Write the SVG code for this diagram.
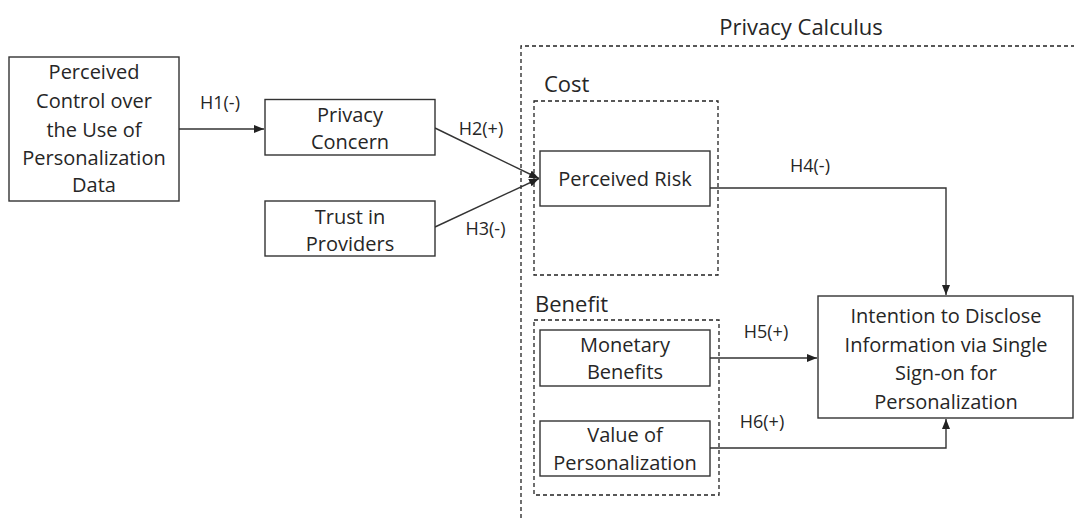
<svg xmlns="http://www.w3.org/2000/svg" width="1074" height="518" viewBox="0 0 1074 518">
<style>
.box{fill:#fff;stroke:#333;stroke-width:1.4}
.grp{fill:none;stroke:#222;stroke-width:1.3;stroke-dasharray:4 3}
.t{font-family:"Open Sans","Liberation Sans",sans-serif;font-size:20px;fill:#262626;text-anchor:middle}
.lbl{font-family:"Open Sans","Liberation Sans",sans-serif;font-size:18px;fill:#262626;text-anchor:middle}
.big{font-family:"Open Sans","Liberation Sans",sans-serif;font-size:22px;fill:#262626}
.c{fill:none;stroke:#333;stroke-width:1.4}
</style>
<defs>
<marker id="ah" markerUnits="userSpaceOnUse" markerWidth="10" markerHeight="8" viewBox="0 0 10 8" refX="10" refY="4" orient="auto">
<path d="M0,0 L10,4 L0,8 Z" fill="#222"/>
</marker>
</defs>
<rect width="1074" height="518" fill="#fff"/>
<g id="privacy-calculus">
<path class="grp" d="M521,518 V46 H1074"/>
<text class="big" x="801" y="35" text-anchor="middle">Privacy Calculus</text>
</g>
<g id="cost-group">
<rect class="grp" x="534" y="101" width="184" height="174"/>
<text class="big" x="544" y="92">Cost</text>
</g>
<g id="benefit-group">
<rect class="grp" x="534" y="320" width="185" height="175"/>
<text class="big" x="535" y="312">Benefit</text>
</g>
<g id="connectors">
<path class="c" d="M179,129 H264" marker-end="url(#ah)"/>
<path class="c" d="M435,128 L539,178.5" marker-end="url(#ah)"/>
<path class="c" d="M435,227 L539,178.5" marker-end="url(#ah)"/>
<path class="c" d="M710,188 H946 V295" marker-end="url(#ah)"/>
<path class="c" d="M710,358 H817" marker-end="url(#ah)"/>
<path class="c" d="M710,448 H946 V419" marker-end="url(#ah)"/>
<text class="lbl" x="220" y="109">H1(-)</text>
<text class="lbl" x="481" y="135">H2(+)</text>
<text class="lbl" x="485.5" y="235">H3(-)</text>
<text class="lbl" x="810" y="172">H4(-)</text>
<text class="lbl" x="766" y="338">H5(+)</text>
<text class="lbl" x="762" y="428">H6(+)</text>
</g>
<g id="perceived-control">
<rect class="box" x="9" y="57" width="170" height="144"/>
<text class="t" x="94" y="79">Perceived</text>
<text class="t" x="94" y="108">Control over</text>
<text class="t" x="94" y="136.5">the Use of</text>
<text class="t" x="94" y="164.5">Personalization</text>
<text class="t" x="94" y="192">Data</text>
</g>
<g id="privacy-concern">
<rect class="box" x="265" y="99.5" width="170" height="55.5"/>
<text class="t" x="350" y="121.5">Privacy</text>
<text class="t" x="350" y="149">Concern</text>
</g>
<g id="trust-in-providers">
<rect class="box" x="265" y="201" width="170" height="55"/>
<text class="t" x="350" y="223.5">Trust in</text>
<text class="t" x="350" y="251">Providers</text>
</g>
<g id="perceived-risk">
<rect class="box" x="540" y="151" width="170" height="55"/>
<text class="t" x="625" y="185.5">Perceived Risk</text>
</g>
<g id="monetary-benefits">
<rect class="box" x="540" y="330" width="170" height="56"/>
<text class="t" x="625" y="351.5">Monetary</text>
<text class="t" x="625" y="379">Benefits</text>
</g>
<g id="value-of-personalization">
<rect class="box" x="540" y="421" width="170" height="55"/>
<text class="t" x="625" y="442">Value of</text>
<text class="t" x="625" y="469.5">Personalization</text>
</g>
<g id="intention">
<rect class="box" x="818" y="296" width="255" height="122"/>
<text class="t" x="946" y="323">Intention to Disclose</text>
<text class="t" x="946" y="351.5">Information via Single</text>
<text class="t" x="946" y="380">Sign-on for</text>
<text class="t" x="946" y="408.5">Personalization</text>
</g>
</svg>
